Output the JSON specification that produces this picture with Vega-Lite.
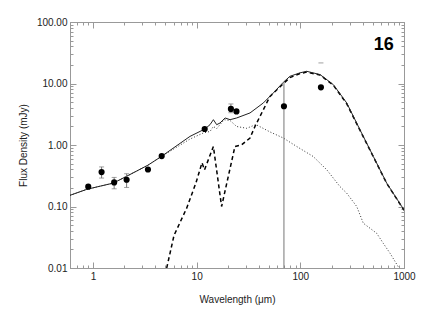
{
  "$schema": "https://vega.github.io/schema/vega-lite/v6.json",
  "width": 334,
  "height": 246,
  "autosize": {"type": "none"},
  "padding": {"left": 70, "top": 22, "right": 21, "bottom": 46},
  "background": "white",
  "config": {
    "view": {"stroke": "#999999", "strokeWidth": 1},
    "axis": {
      "grid": false,
      "domainColor": "#999999",
      "tickColor": "#999999",
      "labelColor": "#222222",
      "labelFont": "Liberation Sans",
      "labelFontSize": 10,
      "titleFont": "Liberation Sans",
      "titleFontSize": 10,
      "titleFontWeight": "normal",
      "titleColor": "#222222",
      "labelOverlap": false,
      "labelFlush": false
    }
  },
  "datasets": {
    "curves": [
      {"wl": 0.6, "flux": 0.152, "comp": "stellar"},
      {"wl": 0.87, "flux": 0.19, "comp": "stellar"},
      {"wl": 1.17, "flux": 0.214, "comp": "stellar"},
      {"wl": 1.57, "flux": 0.24, "comp": "stellar"},
      {"wl": 2.11, "flux": 0.31, "comp": "stellar"},
      {"wl": 3.39, "flux": 0.47, "comp": "stellar"},
      {"wl": 4.5, "flux": 0.64, "comp": "stellar"},
      {"wl": 8.62, "flux": 1.25, "comp": "stellar"},
      {"wl": 11.6, "flux": 1.57, "comp": "stellar"},
      {"wl": 13.45, "flux": 1.66, "comp": "stellar"},
      {"wl": 14.5, "flux": 2.0, "comp": "stellar"},
      {"wl": 15.6, "flux": 1.85, "comp": "stellar"},
      {"wl": 18.4, "flux": 2.58, "comp": "stellar"},
      {"wl": 21.0, "flux": 2.5, "comp": "stellar"},
      {"wl": 24.3, "flux": 2.0, "comp": "stellar"},
      {"wl": 30.4, "flux": 1.87, "comp": "stellar"},
      {"wl": 37.3, "flux": 2.15, "comp": "stellar"},
      {"wl": 51.0, "flux": 1.63, "comp": "stellar"},
      {"wl": 68.5, "flux": 1.3, "comp": "stellar"},
      {"wl": 92.2, "flux": 0.946, "comp": "stellar"},
      {"wl": 133, "flux": 0.651, "comp": "stellar"},
      {"wl": 180, "flux": 0.395, "comp": "stellar"},
      {"wl": 241, "flux": 0.211, "comp": "stellar"},
      {"wl": 280, "flux": 0.165, "comp": "stellar"},
      {"wl": 350, "flux": 0.1, "comp": "stellar"},
      {"wl": 405, "flux": 0.0535, "comp": "stellar"},
      {"wl": 545, "flux": 0.0367, "comp": "stellar"},
      {"wl": 631, "flux": 0.0252, "comp": "stellar"},
      {"wl": 733, "flux": 0.0174, "comp": "stellar"},
      {"wl": 895, "flux": 0.01, "comp": "stellar"},

      {"wl": 5.14, "flux": 0.01, "comp": "dust"},
      {"wl": 6.05, "flux": 0.034, "comp": "dust"},
      {"wl": 8.01, "flux": 0.094, "comp": "dust"},
      {"wl": 9.85, "flux": 0.243, "comp": "dust"},
      {"wl": 11.26, "flux": 0.514, "comp": "dust"},
      {"wl": 11.9, "flux": 0.395, "comp": "dust"},
      {"wl": 14.5, "flux": 0.946, "comp": "dust"},
      {"wl": 17.4, "flux": 0.1, "comp": "dust"},
      {"wl": 23.4, "flux": 0.946, "comp": "dust"},
      {"wl": 27.2, "flux": 1.01, "comp": "dust"},
      {"wl": 32.7, "flux": 1.3, "comp": "dust"},
      {"wl": 36.5, "flux": 2.0, "comp": "dust"},
      {"wl": 40.8, "flux": 2.92, "comp": "dust"},
      {"wl": 51.0, "flux": 6.18, "comp": "dust"},
      {"wl": 68.5, "flux": 9.95, "comp": "dust"},
      {"wl": 79.4, "flux": 12.5, "comp": "dust"},
      {"wl": 99.2, "flux": 14.5, "comp": "dust"},
      {"wl": 115, "flux": 15.3, "comp": "dust"},
      {"wl": 155, "flux": 13.7, "comp": "dust"},
      {"wl": 208, "flux": 9.41, "comp": "dust"},
      {"wl": 280, "flux": 4.7, "comp": "dust"},
      {"wl": 376, "flux": 1.74, "comp": "dust"},
      {"wl": 506, "flux": 0.644, "comp": "dust"},
      {"wl": 681, "flux": 0.238, "comp": "dust"},
      {"wl": 1000, "flux": 0.087, "comp": "dust"},

      {"wl": 0.6, "flux": 0.152, "comp": "total"},
      {"wl": 0.87, "flux": 0.19, "comp": "total"},
      {"wl": 1.17, "flux": 0.214, "comp": "total"},
      {"wl": 1.57, "flux": 0.24, "comp": "total"},
      {"wl": 2.11, "flux": 0.31, "comp": "total"},
      {"wl": 3.39, "flux": 0.47, "comp": "total"},
      {"wl": 4.5, "flux": 0.64, "comp": "total"},
      {"wl": 8.62, "flux": 1.38, "comp": "total"},
      {"wl": 12.0, "flux": 1.82, "comp": "total"},
      {"wl": 13.45, "flux": 2.14, "comp": "total"},
      {"wl": 14.5, "flux": 2.58, "comp": "total"},
      {"wl": 15.6, "flux": 2.14, "comp": "total"},
      {"wl": 16.8, "flux": 2.28, "comp": "total"},
      {"wl": 18.8, "flux": 2.75, "comp": "total"},
      {"wl": 21.0, "flux": 2.58, "comp": "total"},
      {"wl": 24.3, "flux": 2.75, "comp": "total"},
      {"wl": 32.7, "flux": 3.32, "comp": "total"},
      {"wl": 44.0, "flux": 4.83, "comp": "total"},
      {"wl": 54.9, "flux": 7.02, "comp": "total"},
      {"wl": 68.5, "flux": 10.45, "comp": "total"},
      {"wl": 79.4, "flux": 13.1, "comp": "total"},
      {"wl": 99.2, "flux": 14.9, "comp": "total"},
      {"wl": 115, "flux": 15.8, "comp": "total"},
      {"wl": 155, "flux": 13.96, "comp": "total"},
      {"wl": 208, "flux": 9.59, "comp": "total"},
      {"wl": 280, "flux": 4.83, "comp": "total"},
      {"wl": 376, "flux": 1.77, "comp": "total"},
      {"wl": 506, "flux": 0.651, "comp": "total"},
      {"wl": 681, "flux": 0.24, "comp": "total"},
      {"wl": 1000, "flux": 0.088, "comp": "total"}
    ],
    "phot": [
      {"wl": 0.9, "flux": 0.21, "lo": null, "hi": null, "cap": false},
      {"wl": 1.21, "flux": 0.363, "lo": 0.29, "hi": 0.44, "cap": true},
      {"wl": 1.6, "flux": 0.246, "lo": 0.194, "hi": 0.297, "cap": true},
      {"wl": 2.11, "flux": 0.272, "lo": 0.204, "hi": 0.341, "cap": true},
      {"wl": 3.39, "flux": 0.4, "lo": null, "hi": null, "cap": false},
      {"wl": 4.6, "flux": 0.66, "lo": null, "hi": null, "cap": false},
      {"wl": 11.95, "flux": 1.82, "lo": null, "hi": null, "cap": false},
      {"wl": 21.4, "flux": 3.86, "lo": 3.35, "hi": 4.65, "cap": true},
      {"wl": 24.2, "flux": 3.52, "lo": null, "hi": null, "cap": false},
      {"wl": 69.5, "flux": 4.26, "lo": 0.01, "hi": 10.5, "cap": false},
      {"wl": 158, "flux": 8.67, "lo": null, "hi": null, "cap": false}
    ],
    "limit": [
      {"wl": 158, "flux": 21.6}
    ],
    "label": [
      {"wl": 795, "flux": 35.6, "text": "16"}
    ]
  },
  "layer": [
    {
      "data": {"name": "curves"},
      "transform": [{"filter": "datum.comp == 'stellar'"}],
      "mark": {"type": "line", "color": "#333333", "strokeWidth": 1, "strokeDash": [1, 2], "clip": true},
      "encoding": {
        "x": {
          "field": "wl", "type": "quantitative",
          "scale": {"type": "log", "domain": [0.6, 1000], "nice": false},
          "axis": {
            "orient": "bottom",
            "values": [1, 10, 100, 1000],
            "labelExpr": "format(datum.value, 'd')",
            "ticks": false,
            "domain": true,
            "labelPadding": 3,
            "title": "Wavelength (μm)",
            "titleX": 167,
            "titleY": 31,
            "titleBaseline": "middle"
          }
        },
        "y": {
          "field": "flux", "type": "quantitative",
          "scale": {"type": "log", "domain": [0.01, 100], "nice": false},
          "axis": {
            "orient": "left",
            "values": [0.01, 0.1, 1, 10, 100],
            "labelExpr": "format(datum.value, '.2f')",
            "ticks": false,
            "domain": true,
            "labelPadding": 3,
            "title": "Flux Density (mJy)",
            "titleX": -47,
            "titleY": 123,
            "titleBaseline": "middle"
          }
        }
      }
    },
    {
      "data": {"name": "curves"},
      "transform": [{"filter": "datum.comp == 'dust'"}],
      "mark": {"type": "line", "color": "#000000", "strokeWidth": 1.5, "strokeDash": [4, 3], "clip": true},
      "encoding": {
        "x": {"field": "wl", "type": "quantitative",
          "axis": {"orient": "bottom", "values": [1, 10, 100, 1000], "labels": false, "domain": false, "title": null, "tickSize": 6, "offset": -6}},
        "y": {"field": "flux", "type": "quantitative",
          "axis": {"orient": "left", "values": [0.01, 0.1, 1, 10, 100], "labels": false, "domain": false, "title": null, "tickSize": 6, "offset": -6}}
      }
    },
    {
      "data": {"name": "curves"},
      "transform": [{"filter": "datum.comp == 'total'"}],
      "mark": {"type": "line", "color": "#222222", "strokeWidth": 1, "clip": true},
      "encoding": {
        "x": {"field": "wl", "type": "quantitative",
          "axis": {"orient": "bottom", "values": [0.6, 0.7, 0.8, 0.9, 2, 3, 4, 5, 6, 7, 8, 9, 20, 30, 40, 50, 60, 70, 80, 90, 200, 300, 400, 500, 600, 700, 800, 900], "labels": false, "domain": false, "title": null, "tickSize": 3, "offset": -3}},
        "y": {"field": "flux", "type": "quantitative",
          "axis": {"orient": "left", "values": [0.02, 0.03, 0.04, 0.05, 0.06, 0.07, 0.08, 0.09, 0.2, 0.3, 0.4, 0.5, 0.6, 0.7, 0.8, 0.9, 2, 3, 4, 5, 6, 7, 8, 9, 20, 30, 40, 50, 60, 70, 80, 90], "labels": false, "domain": false, "title": null, "tickSize": 3, "offset": -3}}
      }
    },
    {
      "data": {"name": "phot"},
      "transform": [{"filter": "datum.lo != null"}],
      "mark": {"type": "rule", "color": "#777777", "strokeWidth": 1},
      "encoding": {
        "x": {"field": "wl", "type": "quantitative",
          "axis": {"orient": "top", "values": [1, 10, 100, 1000], "labels": false, "domain": false, "title": null, "tickSize": 6, "offset": -6}},
        "y": {"field": "lo", "type": "quantitative",
          "axis": {"orient": "right", "values": [0.01, 0.1, 1, 10, 100], "labels": false, "domain": false, "title": null, "tickSize": 6, "offset": -6}},
        "y2": {"field": "hi"}
      }
    },
    {
      "data": {"name": "phot"},
      "transform": [{"filter": "datum.cap"}, {"fold": ["lo", "hi"], "as": ["end", "val"]}],
      "mark": {"type": "tick", "orient": "horizontal", "size": 5, "thickness": 1, "color": "#777777"},
      "encoding": {
        "x": {"field": "wl", "type": "quantitative",
          "axis": {"orient": "top", "values": [0.6, 0.7, 0.8, 0.9, 2, 3, 4, 5, 6, 7, 8, 9, 20, 30, 40, 50, 60, 70, 80, 90, 200, 300, 400, 500, 600, 700, 800, 900], "labels": false, "domain": false, "title": null, "tickSize": 3, "offset": -3}},
        "y": {"field": "val", "type": "quantitative",
          "axis": {"orient": "right", "values": [0.02, 0.03, 0.04, 0.05, 0.06, 0.07, 0.08, 0.09, 0.2, 0.3, 0.4, 0.5, 0.6, 0.7, 0.8, 0.9, 2, 3, 4, 5, 6, 7, 8, 9, 20, 30, 40, 50, 60, 70, 80, 90], "labels": false, "domain": false, "title": null, "tickSize": 3, "offset": -3}}
      }
    },
    {
      "data": {"name": "limit"},
      "mark": {"type": "tick", "orient": "horizontal", "size": 5, "thickness": 1, "color": "#777777"},
      "encoding": {
        "x": {"field": "wl", "type": "quantitative", "axis": null},
        "y": {"field": "flux", "type": "quantitative", "axis": null}
      }
    },
    {
      "data": {"name": "phot"},
      "mark": {"type": "circle", "color": "#000000", "opacity": 1, "size": 38},
      "encoding": {
        "x": {"field": "wl", "type": "quantitative", "axis": null},
        "y": {"field": "flux", "type": "quantitative", "axis": null}
      }
    },
    {
      "data": {"name": "label"},
      "mark": {"type": "text", "align": "right", "baseline": "alphabetic", "font": "Liberation Sans", "fontSize": 18, "fontWeight": "bold", "color": "#000000"},
      "encoding": {
        "x": {"field": "wl", "type": "quantitative", "axis": null},
        "y": {"field": "flux", "type": "quantitative", "axis": null},
        "text": {"field": "text"}
      }
    }
  ]
}
